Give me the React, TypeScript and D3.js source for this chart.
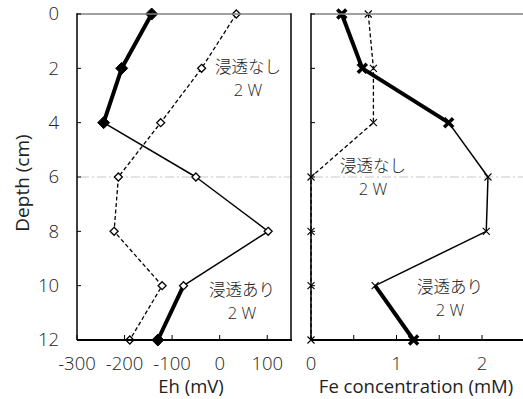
import React, { useRef, useEffect } from 'react';
import * as d3 from 'd3';

// depth of each sample (cm)
const depths = [0, 2, 4, 6, 8, 10, 12];
// Eh (mV)
const ehMain = [-143, -206, -244, -50, 102, -76, -130];
const ehDashed = [35, -38, -124, -213, -222, -121, -189];
// Fe concentration (mM)
const feMain = [0.36, 0.6, 1.61, 2.07, 2.05, 0.75, 1.2];
const feDashed = [0.67, 0.73, 0.73, 0, 0, 0, 0];

const depthTicks = [0, 2, 4, 6, 8, 10, 12];
const ehTicks = [-300, -200, -100, 0, 100];
const feTicks = [0, 0.5, 1, 1.5, 2];
const feLabels = [0, 1, 2];
const refDepth = 6;

const FONT = '"Open Sans", "Noto Sans CJK JP", sans-serif';
const JP = '"Noto Sans CJK JP", sans-serif';

const W = 523, H = 399;

const App: React.FC = () => {
  const svgRef = useRef<SVGSVGElement>(null);

  useEffect(() => {
    const svg = d3.select(svgRef.current as SVGSVGElement);
    svg.selectAll('*').remove();

    const y = d3.scaleLinear().domain([0, 12]).range([14, 340]);
    const xEh = d3.scaleLinear().domain([-300, 150]).range([77, 291]);
    const xFe = d3.scaleLinear().domain([0, 2.5]).range([311, 524.75]);

    // main series: thick at the ends, thin in the middle
    const boldIdx = [0, 1, 2, 6];
    const isBoldSeg = (i: number) => boldIdx.includes(i) && boldIdx.includes(i + 1) || i === 5;

    const diamond = (r: number) => `M0,${-r}L${r},0L0,${r}L${-r},0Z`;
    const cross = (r: number) => `M${-r},${-r}L${r},${r}M${-r},${r}L${r},${-r}`;

    function panel(x: d3.ScaleLinear<number, number>, main: number[], dashed: number[], kind: 'eh' | 'fe') {
      const [x0, x1] = x.range();
      const g = svg.append('g');

      // reference line at 6 cm
      g.append('line')
        .attr('x1', x0 + 3).attr('x2', x1)
        .attr('y1', y(refDepth)).attr('y2', y(refDepth))
        .attr('stroke', '#c8c8c8').attr('stroke-width', 1.2)
        .attr('stroke-dasharray', '9,3,2,3');

      // dashed series
      const line = d3.line<number>().x(d => x(d)).y((_, i) => y(depths[i]));
      g.append('path').datum(dashed)
        .attr('d', line)
        .attr('fill', 'none').attr('stroke', '#000')
        .attr('stroke-width', 1.3).attr('stroke-dasharray', '4,2.5');

      // main series segments
      for (let i = 0; i < main.length - 1; i++) {
        g.append('line')
          .attr('x1', x(main[i])).attr('y1', y(depths[i]))
          .attr('x2', x(main[i + 1])).attr('y2', y(depths[i + 1]))
          .attr('stroke', '#000')
          .attr('stroke-width', isBoldSeg(i) ? 4 : 1.5);
      }

      // markers
      dashed.forEach((v, i) => {
        const m = g.append('path')
          .attr('transform', `translate(${x(v)},${y(depths[i])})`);
        if (kind === 'eh') m.attr('d', diamond(4)).attr('fill', '#fff').attr('stroke', '#000').attr('stroke-width', 1.3);
        else m.attr('d', cross(3.5)).attr('fill', 'none').attr('stroke', '#000').attr('stroke-width', 1.1);
      });
      main.forEach((v, i) => {
        const bold = boldIdx.includes(i);
        const m = g.append('path')
          .attr('transform', `translate(${x(v)},${y(depths[i])})`);
        if (kind === 'eh') {
          if (bold) m.attr('d', diamond(6)).attr('fill', '#000').attr('stroke', '#000').attr('stroke-width', 1).attr('stroke-linejoin', 'round');
          else m.attr('d', diamond(4)).attr('fill', '#fff').attr('stroke', '#000').attr('stroke-width', 1.3);
        } else {
          if (bold) m.attr('d', cross(4.5)).attr('fill', 'none').attr('stroke', '#000').attr('stroke-width', 3.5);
          else m.attr('d', cross(3.5)).attr('fill', 'none').attr('stroke', '#000').attr('stroke-width', 1.1);
        }
      });

      // frame
      g.append('line').attr('x1', x0).attr('x2', x1).attr('y1', 14).attr('y2', 14)
        .attr('stroke', '#808080').attr('stroke-width', 1.5);
      g.append('line').attr('x1', x0).attr('x2', x1 + 1).attr('y1', 340).attr('y2', 340)
        .attr('stroke', '#000').attr('stroke-width', 2);
      g.append('line').attr('x1', x0).attr('x2', x0).attr('y1', 13.3).attr('y2', 340)
        .attr('stroke', '#000').attr('stroke-width', 1.5);
      if (kind === 'eh') {
        g.append('line').attr('x1', x1).attr('x2', x1).attr('y1', 13.3).attr('y2', 340)
          .attr('stroke', '#000').attr('stroke-width', 1.5);
      }

      // inward ticks
      depthTicks.forEach(d => {
        g.append('line').attr('x1', x0).attr('x2', x0 + 4)
          .attr('y1', y(d)).attr('y2', y(d))
          .attr('stroke', '#000').attr('stroke-width', 1);
      });
      const xt = kind === 'eh' ? ehTicks : feTicks;
      xt.forEach(t => {
        g.append('line').attr('x1', x(t)).attr('x2', x(t))
          .attr('y1', 340).attr('y2', 335)
          .attr('stroke', '#000').attr('stroke-width', 1);
      });
      const xl = kind === 'eh' ? ehTicks : feLabels;
      xl.forEach(t => {
        g.append('text').attr('x', x(t)).attr('y', 370)
          .attr('text-anchor', 'middle')
          .attr('font-family', FONT).attr('font-size', 18.5).attr('font-weight', 300)
          .attr('fill', '#222')
          .text(String(t));
      });
    }

    panel(xEh, ehMain, ehDashed, 'eh');
    panel(xFe, feMain, feDashed, 'fe');

    // depth tick labels
    depthTicks.forEach(d => {
      svg.append('text').attr('x', 59).attr('y', y(d)).attr('dy', '0.35em')
        .attr('text-anchor', 'end')
        .attr('font-family', FONT).attr('font-size', 18.5).attr('font-weight', 300)
        .attr('fill', '#222')
        .text(d);
    });

    // axis titles
    svg.append('text')
      .attr('transform', `translate(29,183) rotate(-90)`)
      .attr('text-anchor', 'middle')
      .attr('font-family', FONT).attr('font-size', 19)
      .attr('fill', '#222')
      .text('Depth (cm)');
    svg.append('text').attr('x', 191).attr('y', 393)
      .attr('text-anchor', 'middle')
      .attr('font-family', FONT).attr('font-size', 18.5)
      .attr('fill', '#222')
      .text('Eh (mV)');
    svg.append('text').attr('x', 416).attr('y', 393)
      .attr('text-anchor', 'middle')
      .attr('font-family', FONT).attr('font-size', 18.5)
      .attr('fill', '#222')
      .text('Fe concentration (mM)');

    // annotations
    const notes = [
      { t: '浸透なし', x: 248, y: 67 },
      { t: '浸透あり', x: 242, y: 290 },
      { t: '浸透なし', x: 373, y: 166 },
      { t: '浸透あり', x: 450, y: 287 },
    ];
    notes.forEach(n => {
      svg.append('text').attr('x', n.x).attr('y', n.y).attr('dy', '0.35em')
        .attr('text-anchor', 'middle')
        .attr('font-family', JP).attr('font-size', 16.5).attr('font-weight', 300)
        .attr('fill', '#222')
        .text(n.t);
      svg.append('text').attr('x', n.x).attr('y', n.y + 23).attr('dy', '0.35em')
        .attr('text-anchor', 'middle')
        .attr('font-family', FONT).attr('font-size', 16.5).attr('font-weight', 300)
        .attr('fill', '#222')
        .text('2 W');
    });
  }, []);

  return (
    <svg ref={svgRef} width={W} height={H}
      style={{ position: 'absolute', left: 0, top: 0, background: '#fff', display: 'block' }} />
  );
};

export default App;
